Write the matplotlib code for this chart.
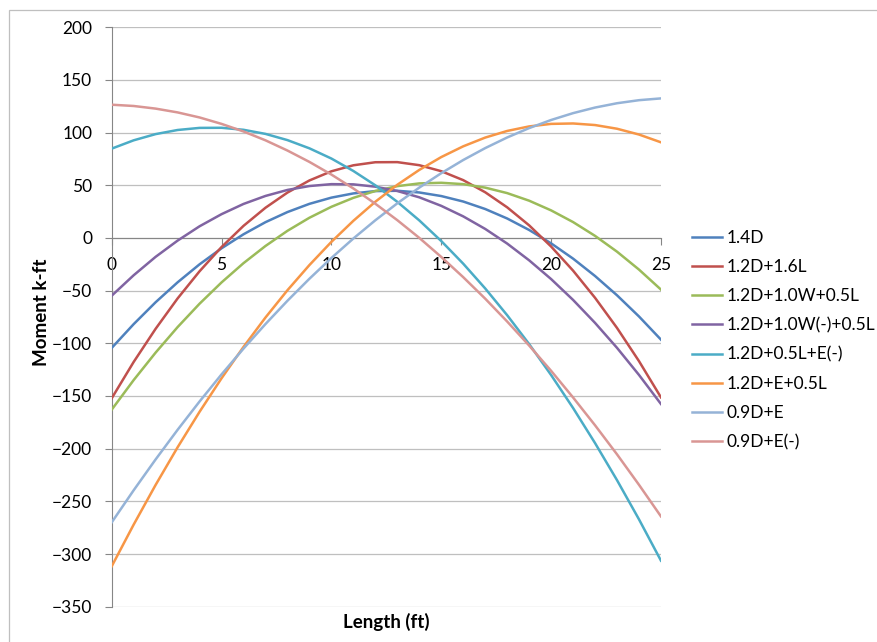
import matplotlib
matplotlib.use("Agg")
import matplotlib.pyplot as plt
from matplotlib.patches import Rectangle

plt.rcParams['font.family'] = ['Lato', 'DejaVu Sans']

# Length along the beam (ft)
length_ft = list(range(0, 26))

# Moment (k-ft) at each foot
m_14d = [-104.4, -81.8, -61.0, -42.1, -25.0, -9.8, 3.5, 15.0, 24.6, 32.4, 38.3, 42.3, 44.5,
         44.8, 43.2, 39.8, 34.6, 27.5, 18.5, 7.6, -5.1, -19.6, -36.1, -54.4, -74.5, -96.5]
m_12d_16l = [-152.2, -117.7, -86.2, -57.4, -31.6, -8.6, 11.5, 28.7, 43.1, 54.6, 63.3, 69.0, 71.9,
             72.0, 69.1, 63.4, 54.9, 43.4, 29.1, 12.0, -8.1, -31.0, -56.8, -85.4, -116.9, -151.3]
m_12d_w_05l = [-163.0, -134.9, -108.8, -84.6, -62.4, -42.2, -23.9, -7.6, 6.8, 19.2, 29.6, 38.1, 44.6,
               49.2, 51.8, 52.4, 51.1, 47.8, 42.6, 35.4, 26.2, 15.1, 2.0, -13.0, -30.0, -49.0]
m_12d_wneg_05l = [-54.8, -35.4, -17.9, -2.5, 11.1, 22.6, 32.3, 39.9, 45.6, 49.3, 51.1, 50.9, 48.7,
                  44.6, 38.6, 30.5, 20.5, 8.6, -5.3, -21.2, -39.0, -58.8, -80.6, -104.3, -130.0, -157.6]
m_12d_05l_eneg = [84.8, 92.7, 98.6, 102.5, 104.5, 104.6, 102.7, 98.8, 92.9, 85.1, 75.4, 63.6, 50.0,
                  34.3, 16.7, -2.9, -24.4, -47.9, -73.3, -100.7, -130.1, -161.4, -194.7, -229.9, -267.1, -306.3]
m_12d_e_05l = [-311.7, -272.1, -234.4, -198.7, -165.0, -133.2, -103.4, -75.5, -49.6, -25.7, -3.7, 16.3, 34.4,
               50.5, 64.6, 76.8, 87.0, 95.3, 101.6, 105.9, 108.3, 108.7, 107.2, 103.7, 98.2, 90.8]
m_09d_e = [-270.0, -239.5, -210.2, -182.1, -155.2, -129.5, -105.0, -81.7, -59.6, -38.7, -19.0, -0.5, 16.8,
           32.9, 47.8, 61.5, 74.0, 85.3, 95.4, 104.3, 112.0, 118.5, 123.8, 127.9, 130.8, 132.5]
m_09d_eneg = [126.5, 125.3, 122.8, 119.2, 114.4, 108.3, 101.1, 92.7, 83.0, 72.2, 60.2, 47.0, 32.5,
              16.9, 0.1, -18.0, -37.2, -57.6, -79.3, -102.1, -126.1, -151.4, -177.8, -205.4, -234.3, -264.3]

series = [
    ("1.4D", m_14d, "#4F81BD"),
    ("1.2D+1.6L", m_12d_16l, "#C0504D"),
    ("1.2D+1.0W+0.5L", m_12d_w_05l, "#9BBB59"),
    ("1.2D+1.0W(-)+0.5L", m_12d_wneg_05l, "#8064A2"),
    ("1.2D+0.5L+E(-)", m_12d_05l_eneg, "#4BACC6"),
    ("1.2D+E+0.5L", m_12d_e_05l, "#F79646"),
    ("0.9D+E", m_09d_e, "#95B3D7"),
    ("0.9D+E(-)", m_09d_eneg, "#D99694"),
]

fig = plt.figure(figsize=(8.78, 6.42), dpi=100)
ax = fig.add_axes([0.1272, 0.055, 0.6256, 0.9025])

# chart-area border (only top/left visible in the crop)
fig.patches.append(Rectangle((9.5 / 878, -0.1), 1.2, (1 - 9.5 / 642) + 0.1,
                             transform=fig.transFigure, fill=False,
                             edgecolor="#BFBFBF", linewidth=0.9))

for label, vals, col in series:
    ax.plot(length_ft, vals, color=col, linewidth=1.8, label=label, zorder=3)

ax.set_xlim(0, 25)
ax.set_ylim(-350, 200)
ax.set_xticks(range(0, 26, 5))
ax.set_yticks(range(-350, 201, 50))
ax.yaxis.grid(True, color="#BFBFBF", linewidth=0.9)
ax.set_axisbelow(True)

for s in ("top", "right"):
    ax.spines[s].set_visible(False)
ax.spines["bottom"].set_position(("data", 0))
ax.spines["bottom"].set_color("#868686")
ax.spines["left"].set_color("#868686")
ax.spines["bottom"].set_zorder(2)

ax.tick_params(axis="y", direction="out", length=5, color="#868686", pad=9,
               labelsize=12.5, labelcolor="#000000")
ax.tick_params(axis="x", direction="out", length=5, color="#868686", pad=9,
               labelsize=12.5, labelcolor="#000000")

fig.text(0.047, 0.514, "Moment k-ft", rotation=90, ha="center", va="center",
         fontsize=13.5, fontweight="bold")
fig.text(0.4397, 0.031, "Length (ft)", ha="center", va="center",
         fontsize=13.5, fontweight="bold")

fig.legend(loc="center left", bbox_to_anchor=(692 / 878, 0.4704), frameon=False,
           fontsize=12.5, handlelength=1.7, handletextpad=0.3, labelspacing=0.76,
           borderpad=0, borderaxespad=0)

fig.savefig("out.png", dpi=100)
